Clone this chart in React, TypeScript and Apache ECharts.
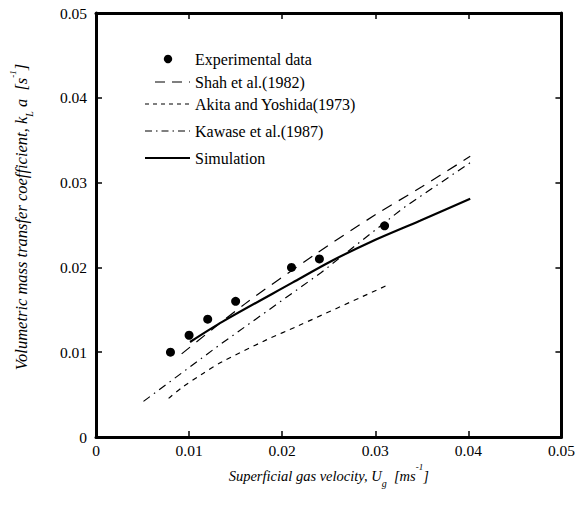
import React, { useEffect, useRef } from "react";
import * as echarts from "echarts";

const experimentalUg = [0.008, 0.010, 0.012, 0.015, 0.021, 0.024, 0.031];
const experimentalKla = [0.0100, 0.0120, 0.0139, 0.0160, 0.0200, 0.0210, 0.0249];

const shahUg = [0.0092, 0.0160, 0.0235, 0.0300, 0.0350, 0.0402];
const shahKla = [0.0098, 0.0157, 0.0215, 0.0262, 0.0295, 0.0331];

const akitaUg = [0.0078, 0.0092, 0.0115, 0.0136, 0.0183, 0.0217, 0.0311];
const akitaKla = [0.00455, 0.0058, 0.0075, 0.0089, 0.01145, 0.0131, 0.0178];

const kawaseUg = [0.0051, 0.0132, 0.0242, 0.0330, 0.0404];
const kawaseKla = [0.0042, 0.0108, 0.0194, 0.0270, 0.0325];

const simulationUg = [0.0101, 0.0136, 0.0211, 0.0252, 0.0295, 0.0348, 0.0402];
const simulationKla = [0.0112, 0.0136, 0.0182, 0.0207, 0.0230, 0.0255, 0.0281];

const xTickLabels = ["0", "0.01", "0.02", "0.03", "0.04", "0.05"];
const yTickLabels = ["0", "0.01", "0.02", "0.03", "0.04", "0.05"];

const legendNames = [
  "Experimental data",
  "Shah et al.(1982)",
  "Akita and Yoshida(1973)",
  "Kawase et al.(1987)",
  "Simulation",
];

const FONT = "Liberation Serif";

const zip = (xs: number[], ys: number[]) => xs.map((x, i) => [x, ys[i]]);

export default function App() {
  const ref = useRef<HTMLDivElement>(null);
  useEffect(() => {
    if (!ref.current) return;
    const chart = echarts.init(ref.current, undefined, { renderer: "svg" });

    const axisCommon = {
      type: "value" as const,
      min: 0,
      max: 0.05,
      interval: 0.01,
      splitLine: { show: false },
      axisLine: { show: true, onZero: false, lineStyle: { color: "#000", width: 3 } },
      axisTick: { show: true, inside: true, length: 6, lineStyle: { color: "#000", width: 1.5 } },
    };

    const legendRows = [59, 82, 104, 131, 158];
    const legendGraphics: any[] = [];
    const lineStyles = [null, [10, 7], [4, 4], [7, 4, 1.5, 4], null];
    legendNames.forEach((name, i) => {
      const y = legendRows[i];
      if (i === 0) {
        legendGraphics.push({ type: "circle", shape: { cx: 168, cy: y, r: 4.2 }, style: { fill: "#000" } });
      } else {
        const x1 = i === 1 ? 155 : 145;
        legendGraphics.push({
          type: "line",
          shape: { x1, y1: y, x2: 190, y2: y },
          style: {
            stroke: "#000",
            lineWidth: i === 4 ? 2 : 1.2,
            lineDash: lineStyles[i] || undefined,
          },
        });
      }
      legendGraphics.push({
        type: "text",
        x: 195,
        y,
        style: {
          text: name,
          fontFamily: FONT,
          fontSize: 16,
          fill: "#000",
          verticalAlign: "middle",
          align: "left",
        },
      });
    });

    const richStyles = (size: number) => ({
      t: { fontFamily: FONT, fontStyle: "italic", fontSize: size, color: "#000", lineHeight: 26, verticalAlign: "middle" },
      sub: { fontFamily: FONT, fontStyle: "italic", fontSize: 10, color: "#000", lineHeight: 10, verticalAlign: "bottom" },
      sup: { fontFamily: FONT, fontStyle: "italic", fontSize: 9, color: "#000", lineHeight: 9, verticalAlign: "top" },
      gap: { width: 16, lineHeight: 26 },
    });

    chart.setOption({
      animation: false,
      backgroundColor: "#fff",
      grid: { left: 91.5, right: 13.5, top: 13, bottom: 69, containLabel: false },
      xAxis: [
        {
          ...axisCommon,
          position: "bottom",
          axisLabel: {
            formatter: (v: number) => xTickLabels[Math.round(v / 0.01)],
            fontFamily: FONT,
            fontSize: 15.5,
            color: "#000",
            margin: 5,
          },
          name: "{t|Superficial gas velocity, U}{sub|g}{t|  [ms}{sup|-1}{t|]}",
          nameLocation: "middle",
          nameGap: 20,
          nameTextStyle: { rich: richStyles(14.5) },
        },
        {
          ...axisCommon,
          position: "top",
          axisLabel: { show: false },
        },
      ],
      yAxis: [
        {
          ...axisCommon,
          position: "left",
          axisLabel: {
            formatter: (v: number) => yTickLabels[Math.round(v / 0.01)],
            fontFamily: FONT,
            fontSize: 15.5,
            color: "#000",
            margin: 9,
          },
          name: "{gap|}{t|Volumetric mass transfer coefficient, k}{sub|L}{t| a  [s}{sup|-1}{t|]}",
          nameLocation: "middle",
          nameGap: 62,
          nameTextStyle: { rich: richStyles(16.5) },
        },
        {
          ...axisCommon,
          position: "right",
          axisLabel: { show: false },
        },
      ],
      series: [
        {
          name: legendNames[0],
          type: "scatter",
          data: zip(experimentalUg, experimentalKla),
          symbol: "circle",
          symbolSize: 9,
          itemStyle: { color: "#000", opacity: 1 },
          z: 5,
        },
        {
          name: legendNames[1],
          type: "line",
          data: zip(shahUg, shahKla),
          smooth: 0.3,
          showSymbol: false,
          lineStyle: { color: "#000", width: 1.2, type: [11, 8] },
        },
        {
          name: legendNames[2],
          type: "line",
          data: zip(akitaUg, akitaKla),
          smooth: 0.3,
          showSymbol: false,
          lineStyle: { color: "#000", width: 1.2, type: [5, 5] },
        },
        {
          name: legendNames[3],
          type: "line",
          data: zip(kawaseUg, kawaseKla),
          showSymbol: false,
          lineStyle: { color: "#000", width: 1.2, type: [8, 5, 1.5, 5] },
        },
        {
          name: legendNames[4],
          type: "line",
          data: zip(simulationUg, simulationKla),
          smooth: 0.3,
          showSymbol: false,
          lineStyle: { color: "#000", width: 2.2 },
        },
      ],
      graphic: legendGraphics,
    });
    return () => chart.dispose();
  }, []);
  return <div ref={ref} style={{ width: 578, height: 506, position: "absolute", left: 0, top: 0 }} />;
}
